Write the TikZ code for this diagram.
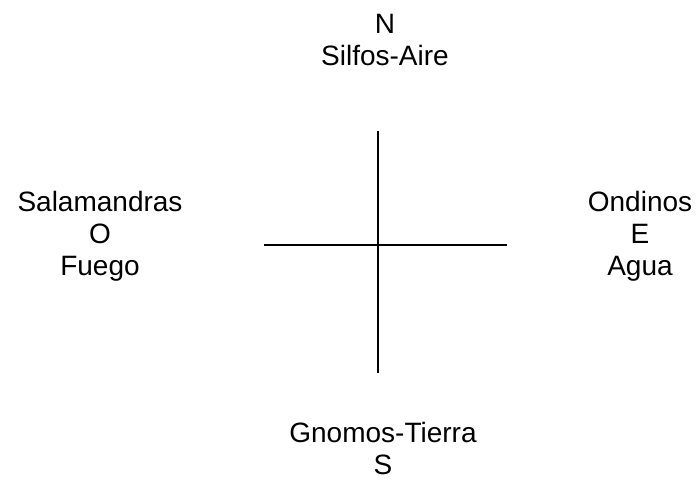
\documentclass[tikz,border=0pt]{standalone}
\usepackage{fontspec}
\setmainfont{Liberation Sans}
\begin{document}
\begin{tikzpicture}[x=1pt,y=-1pt,
  lbl/.style={anchor=base,inner sep=0pt,font=\fontsize{28}{32}\selectfont},
  arm/.style={line width=1.5pt}]
  \useasboundingbox (0,0) rectangle (700,480);
  % cross
  \coordinate (up) at (378,131); \coordinate (down) at (378,373);
  \coordinate (west) at (264,245); \coordinate (east) at (507,245);
  \draw[arm] (up)--(down); \draw[arm] (west)--(east);
  % north
  \node[lbl] (n) at (385,33) {N};
  \node[lbl] (aire) at (385,65) {Silfos-Aire};
  % west
  \node[lbl] (salam) at (100,211) {Salamandras};
  \node[lbl] (o) at (100,243) {O};
  \node[lbl] (fuego) at (100,275) {Fuego};
  % east
  \node[lbl] (ondin) at (640,211) {Ondinos};
  \node[lbl] (e) at (640,243) {E};
  \node[lbl] (agua) at (640,275) {Agua};
  % south
  \node[lbl] (tierra) at (383,442) {Gnomos-Tierra};
  \node[lbl] (s) at (383,474) {S};
\end{tikzpicture}
\end{document}
